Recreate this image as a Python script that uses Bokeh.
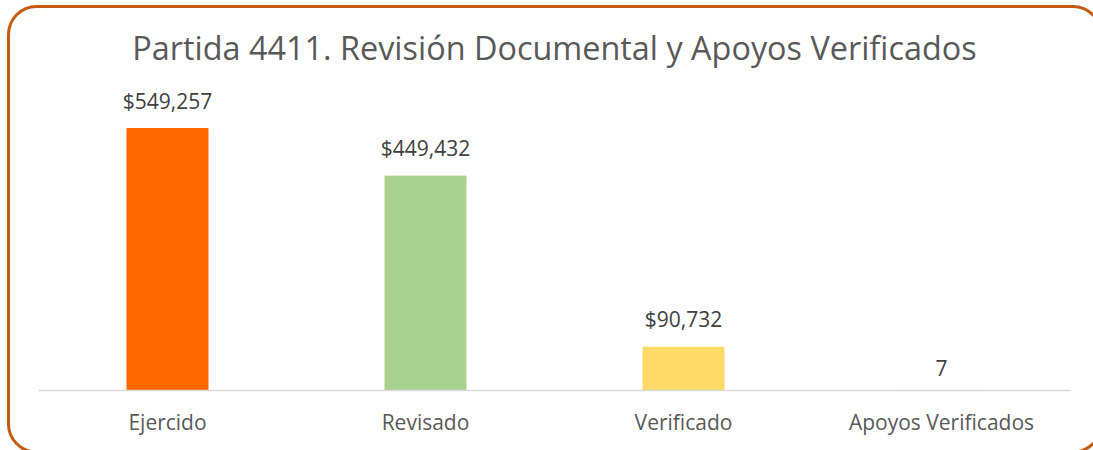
from bokeh.plotting import figure
from bokeh.models import ColumnDataSource, FactorRange, Range1d
from bokeh.core.properties import value
from bokeh.embed import file_html
from bokeh.resources import INLINE

title_text = "Partida 4411. Revisión Documental y Apoyos Verificados"
categories = ["Ejercido", "Revisado", "Verificado", "Apoyos Verificados"]
values = [549257, 449432, 90732, 7]
labels = ["$549,257", "$449,432", "$90,732", "7"]
colors = ["#FF6600", "#A9D18E", "#FFD966", "#5B9BD5"]

FONT = "Open Sans"

src = ColumnDataSource(dict(cat=categories, val=values, lab=labels, col=colors))

p = figure(
    x_range=FactorRange(*categories, range_padding=0),
    y_range=Range1d(0, max(values) * 320 / 262),
    width=1093, height=450,
    output_backend="svg", toolbar_location=None,
    min_border_left=38, min_border_right=23, min_border_top=70, min_border_bottom=60,
    title=title_text,
)
p.title.align = "center"
p.title.text_font = FONT
p.title.text_font_size = "32.4px"
p.title.text_font_style = "normal"
p.title.text_color = "#595959"
p.title.standoff = 4

p.vbar(x="cat", top="val", width=0.314, color="col", source=src)
p.text(x="cat", y="val", text="lab", source=src, text_align="center",
       text_baseline="bottom", y_offset=-14, text_font=value(FONT),
       text_font_size="21px", text_color="#404040")

p.yaxis.visible = False
p.xgrid.visible = False
p.ygrid.visible = False
p.outline_line_color = None
p.border_fill_color = None
p.background_fill_color = None
p.xaxis.axis_line_color = "#D9D9D9"
p.xaxis.axis_line_width = 1.5
p.xaxis.major_tick_line_color = None
p.xaxis.minor_tick_line_color = None
p.xaxis.major_label_text_font = FONT
p.xaxis.major_label_text_font_size = "21px"
p.xaxis.major_label_text_color = "#595959"
p.xaxis.major_label_standoff = 11

svg = ("<svg xmlns='http://www.w3.org/2000/svg' width='1093' height='450'>"
       "<rect x='8.5' y='6.5' width='1092.5' height='445.5' rx='28' ry='28' "
       "fill='white' stroke='%23C55A11' stroke-width='3'/></svg>")
p.styles = {"background": f"white url(\"data:image/svg+xml;utf8,{svg}\") no-repeat"}

open("out.html", "w").write(file_html(p, INLINE))
